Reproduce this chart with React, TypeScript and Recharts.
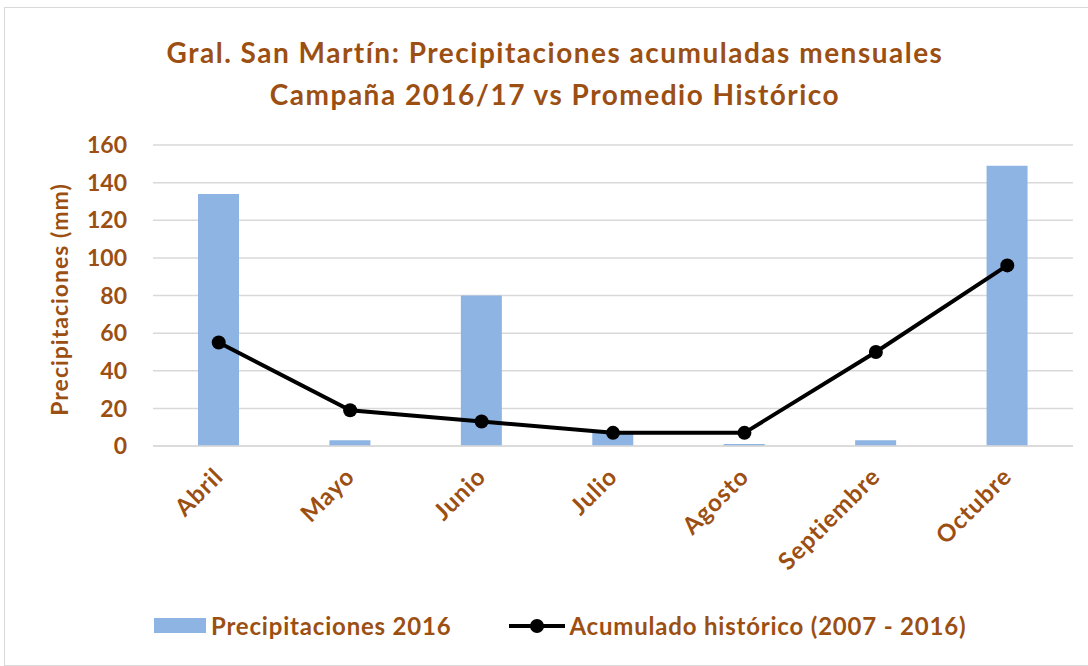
import {
  ComposedChart,
  Bar,
  Line,
  XAxis,
  YAxis,
  CartesianGrid,
} from "recharts";

const months = ["Abril", "Mayo", "Junio", "Julio", "Agosto", "Septiembre", "Octubre"];
const precip2016 = [134, 3, 80, 7, 1, 3, 149];
const historico = [55, 19, 13, 7, 7, 50, 96];
const yTicks = [0, 20, 40, 60, 80, 100, 120, 140, 160];

const BROWN = "#9C4F12";
const BLUE = "#8EB4E3";
const FONT = "Lato, 'Open Sans', sans-serif";

const data = months.map((m, i) => ({
  month: m,
  precip: precip2016[i],
  hist: historico[i],
}));

function MonthTick(props: any) {
  const { x, y, payload } = props;
  return (
    <g transform={`translate(${x + 6},${y + 24})`}>
      <text
        x={0}
        y={0}
        textAnchor="end"
        transform="rotate(-45)"
        fill={BROWN}
        fontSize={24}
        fontWeight={700}
        fontFamily={FONT}
        letterSpacing={1}
      >
        {payload.value}
      </text>
    </g>
  );
}

export default function App() {
  return (
    <div
      style={{
        position: "absolute",
        left: 4,
        top: 7,
        width: 1100,
        height: 657,
        border: "1px solid #d9d9d9",
        background: "#fff",
        fontFamily: FONT,
      }}
    >
      <div
        style={{
          position: "absolute",
          left: 0,
          width: 1100,
          top: 23,
          textAlign: "center",
          color: BROWN,
          fontSize: 28,
          fontWeight: 700,
          letterSpacing: 1.5,
          lineHeight: "42px",
        }}
      >
        <div>Gral. San Martín: Precipitaciones acumuladas mensuales</div>
        <div>Campaña 2016/17 vs Promedio Histórico</div>
      </div>

      <ComposedChart
        width={1084}
        height={657}
        data={data}
        margin={{ top: 137, right: 16, bottom: 69, left: 0 }}
      >
        <CartesianGrid vertical={false} stroke="#d9d9d9" strokeWidth={1.5} />
        <XAxis
          dataKey="month"
          axisLine={{ stroke: "#d9d9d9", strokeWidth: 1.5 }}
          tickLine={false}
          height={150}
          interval={0}
          tick={<MonthTick />}
        />
        <YAxis
          domain={[0, 160]}
          ticks={yTicks}
          width={148}
          axisLine={false}
          tickLine={false}
          tickSize={0}
          tickMargin={26}
          tick={{ fill: BROWN, fontSize: 23, fontWeight: 700, fontFamily: FONT }}
          label={{
            value: "Precipitaciones (mm)",
            angle: -90,
            position: "insideLeft",
            dx: 50,
            dy: 4,
            fill: BROWN,
            fontSize: 23,
            fontWeight: 700,
            fontFamily: FONT,
            letterSpacing: 1,
            style: { textAnchor: "middle" },
          }}
        />
        <Bar dataKey="precip" fill={BLUE} barSize={41} isAnimationActive={false} />
        <Line
          dataKey="hist"
          stroke="#000"
          strokeWidth={4}
          dot={{ r: 7, fill: "#000", stroke: "#000", strokeWidth: 0 }}
          activeDot={false}
          isAnimationActive={false}
        />
      </ComposedChart>

      <div
        style={{
          position: "absolute",
          top: 603,
          left: 149,
          display: "flex",
          alignItems: "center",
          color: BROWN,
          fontSize: 24,
          fontWeight: 700,
          letterSpacing: 0.8,
        }}
      >
        <span style={{ display: "inline-block", width: 52, height: 15, background: BLUE, marginRight: 5 }} />
        <span>Precipitaciones 2016</span>
        <svg width={56} height={20} style={{ marginLeft: 58, marginRight: 4 }}>
          <line x1={0} y1={10} x2={56} y2={10} stroke="#000" strokeWidth={4} />
          <circle cx={28} cy={10} r={7} fill="#000" />
        </svg>
        <span>Acumulado histórico (2007 - 2016)</span>
      </div>
    </div>
  );
}
